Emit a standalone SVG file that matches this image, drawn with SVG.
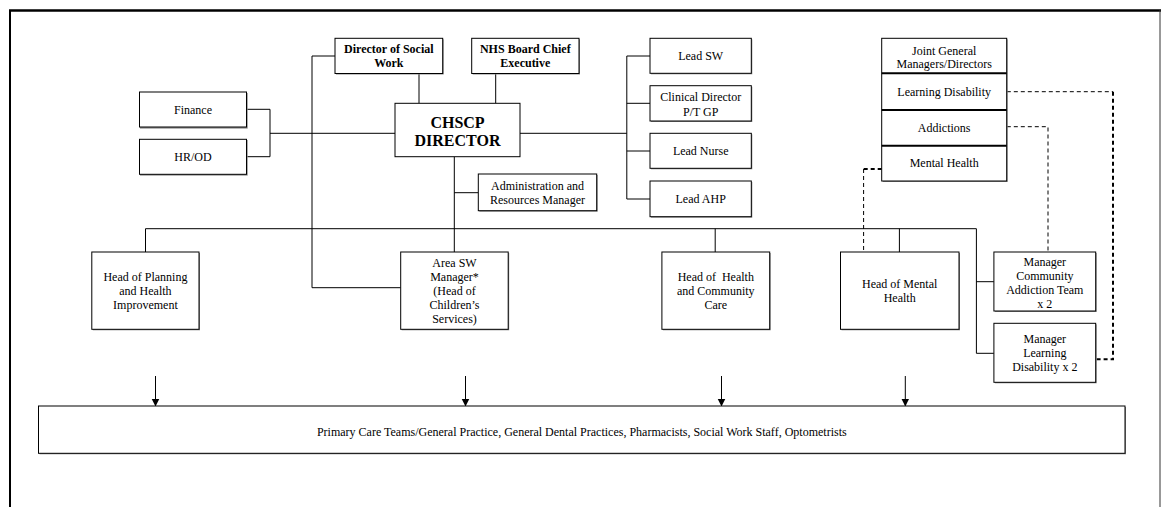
<svg xmlns="http://www.w3.org/2000/svg" width="1161" height="507" viewBox="0 0 1161 507">
<style>
.sh{fill:#8a8a8a;stroke:none}
.bx{fill:#fff;stroke:#000;stroke-width:1}
.t{font-family:"Liberation Serif","Times New Roman",serif;font-size:12px;fill:#000;text-anchor:middle}
.b{font-weight:bold}
.big{font-size:16px;font-weight:bold}
.sm{font-size:12px}
.ln{fill:none;stroke:#000;stroke-width:1}
.d1{fill:none;stroke:#000;stroke-width:1;stroke-dasharray:4,3}
.d2{fill:none;stroke:#000;stroke-width:2;stroke-dasharray:4,3}
</style>
<defs>
<marker id="ah" markerWidth="8" markerHeight="10" refX="7" refY="4" orient="auto" markerUnits="userSpaceOnUse">
<path d="M0,0 L8,4 L0,8 Z" fill="#000"/>
</marker>
</defs>
<rect x="0" y="0" width="1161" height="507" fill="#fff"/>
<g id="frame">
<line x1="9" y1="10.5" x2="1161" y2="10.5" stroke="#000" stroke-width="2.5"/>
<line x1="10" y1="10" x2="10" y2="507" stroke="#000" stroke-width="2"/>
<line x1="1160" y1="10" x2="1160" y2="507" stroke="#333" stroke-width="1"/>
</g>
<g id="connectors">
<path class="ln" d="M246.7,109.3 H270 V156.7 H246.7 M270,133.3 H395"/>
<path class="ln" d="M335,56 H312 V287.7 H400.7"/>
<path class="ln" d="M419,73.5 V103.3 M495.7,73.5 V103.3"/>
<path class="ln" d="M520,133.3 H626.8 M626.8,56 V199 M626.8,56 H650 M626.8,103.3 H650 M626.8,151 H650 M626.8,199 H650"/>
<path class="ln" d="M454.3,156.7 V252 M454.3,192.7 H478.3"/>
<path class="ln" d="M145.5,252 V228.7 H976.4 V353.3 H993.9 M976.4,281.7 H993.9 M715.2,228.7 V252 M899.4,228.7 V252"/>
<path class="d1" d="M1006.8,91.7 H1113"/>
<path class="d2" d="M1113,91.7 V359.3 H1095.7"/>
<path class="d1" d="M1006.8,126.7 H1048 V252"/>
<path class="d2" d="M881.7,169 H863.6"/>
<path class="d1" d="M863.6,169 V252"/>
<path class="ln" marker-end="url(#ah)" d="M155.5,376 V405.5"/>
<path class="ln" marker-end="url(#ah)" d="M465.5,376 V405.5"/>
<path class="ln" marker-end="url(#ah)" d="M721.5,376 V405.5"/>
<path class="ln" marker-end="url(#ah)" d="M905.3,376 V405.5"/>
</g>
<g id="finance">
<rect class="sh" x="140" y="93" width="107.7" height="35.6"/>
<rect class="bx" x="139.5" y="92" width="107" height="35"/>
<text class="t" x="193" y="113.5">Finance</text>
</g>
<g id="hrod">
<rect class="sh" x="140" y="140" width="107.7" height="35.6"/>
<rect class="bx" x="139.5" y="139.3" width="107" height="35"/>
<text class="t" x="193" y="160.7">HR/OD</text>
</g>
<g id="dosw">
<rect class="sh" x="336" y="39.3" width="107.7" height="35.2"/>
<rect class="bx" x="335" y="38.3" width="107.7" height="35.2"/>
<text class="t b" x="388.8" y="53.3">Director of Social</text>
<text class="t b" x="388.8" y="67.3">Work</text>
</g>
<g id="nhs">
<rect class="sh" x="472.7" y="39.3" width="107.3" height="35.2"/>
<rect class="bx" x="471.7" y="38.3" width="107.3" height="35.2"/>
<text class="t b" x="525.3" y="53.3">NHS Board Chief</text>
<text class="t b" x="525.3" y="67.3">Executive</text>
</g>
<g id="chscp">
<rect class="bx" x="395" y="103.3" width="125" height="53.4" stroke-width="3"/>
<text class="t big" x="457.5" y="128">CHSCP</text>
<text class="t big" x="457.5" y="146.3">DIRECTOR</text>
</g>
<g id="admin">
<rect class="sh" x="479.3" y="175" width="118.4" height="36.7"/>
<rect class="bx" x="478.3" y="174" width="118.4" height="36.7"/>
<text class="t" x="537.5" y="189.7">Administration and</text>
<text class="t" x="537.5" y="204">Resources Manager</text>
</g>
<g id="leadsw">
<rect class="sh" x="651" y="39.3" width="101.3" height="35"/>
<rect class="bx" x="650" y="38.3" width="101.3" height="35"/>
<text class="t" x="700.7" y="59.8">Lead SW</text>
</g>
<g id="clinical">
<rect class="sh" x="651" y="86.7" width="101.3" height="35.3"/>
<rect class="bx" x="650" y="85.7" width="101.3" height="35.3"/>
<text class="t" x="700.7" y="101.3">Clinical Director</text>
<text class="t" x="700.7" y="115.7">P/T GP</text>
</g>
<g id="leadnurse">
<rect class="sh" x="651" y="134.3" width="101.3" height="35"/>
<rect class="bx" x="650" y="133.3" width="101.3" height="35"/>
<text class="t" x="700.7" y="155">Lead Nurse</text>
</g>
<g id="leadahp">
<rect class="sh" x="651" y="182" width="101.3" height="35.7"/>
<rect class="bx" x="650" y="181" width="101.3" height="35.7"/>
<text class="t" x="700.7" y="203">Lead AHP</text>
</g>
<g id="jointgm">
<rect class="sh" x="882.7" y="39.3" width="125" height="142.7"/>
<rect class="bx" x="881.7" y="38.3" width="125" height="142.7"/>
<line x1="881.7" y1="73.3" x2="1006.7" y2="73.3" stroke="#000" stroke-width="2"/>
<line x1="881.7" y1="110" x2="1006.7" y2="110" stroke="#000" stroke-width="2"/>
<line x1="881.7" y1="145.7" x2="1006.7" y2="145.7" stroke="#000" stroke-width="2"/>
<text class="t" x="944.2" y="54.7">Joint General</text>
<text class="t" x="944.2" y="67.7">Managers/Directors</text>
<text class="t" x="944.2" y="95.7">Learning Disability</text>
<text class="t" x="944.2" y="131.8">Addictions</text>
<text class="t" x="944.2" y="167.3">Mental Health</text>
</g>
<g id="planning">
<rect class="sh" x="92.8" y="253" width="107.2" height="77.3"/>
<rect class="bx" x="91.8" y="252" width="107.2" height="77.3"/>
<text class="t" x="145.4" y="280.7">Head of Planning</text>
<text class="t" x="145.4" y="294.7">and Health</text>
<text class="t" x="145.4" y="308.7">Improvement</text>
</g>
<g id="areasw">
<rect class="sh" x="401.7" y="253" width="107.5" height="77.3"/>
<rect class="bx" x="400.7" y="252" width="107.5" height="77.3"/>
<text class="t" x="454.5" y="266.7">Area SW</text>
<text class="t" x="454.5" y="280.7">Manager*</text>
<text class="t" x="454.5" y="294.7">(Head of</text>
<text class="t" x="454.5" y="308.7">Children’s</text>
<text class="t" x="454.5" y="322.7">Services)</text>
</g>
<g id="hhcc">
<rect class="sh" x="662.9" y="253" width="107.8" height="77.3"/>
<rect class="bx" x="661.9" y="252" width="107.8" height="77.3"/>
<text class="t" x="715.8" y="280.7" xml:space="preserve">Head of  Health</text>
<text class="t" x="715.8" y="294.7">and Community</text>
<text class="t" x="715.8" y="308.7">Care</text>
</g>
<g id="hmh">
<rect class="sh" x="841.5" y="253" width="118.5" height="77.3"/>
<rect class="bx" x="840.5" y="252" width="118.5" height="77.3"/>
<text class="t" x="899.7" y="287.7">Head of Mental</text>
<text class="t" x="899.7" y="301.7">Health</text>
</g>
<g id="mcat">
<rect class="sh" x="994.9" y="253" width="101.8" height="59"/>
<rect class="bx" x="993.9" y="252" width="101.8" height="59"/>
<text class="t" x="1044.8" y="265.8">Manager</text>
<text class="t" x="1044.8" y="279.8">Community</text>
<text class="t" x="1044.8" y="293.8">Addiction Team</text>
<text class="t" x="1044.8" y="307.8">x 2</text>
</g>
<g id="mld">
<rect class="sh" x="994.9" y="324.3" width="101.8" height="59"/>
<rect class="bx" x="993.9" y="323.3" width="101.8" height="59"/>
<text class="t" x="1044.8" y="342.8">Manager</text>
<text class="t" x="1044.8" y="356.8">Learning</text>
<text class="t" x="1044.8" y="370.8">Disability x 2</text>
</g>
<g id="primary">
<rect class="sh" x="39.5" y="407" width="1086.5" height="47.3"/>
<rect class="bx" x="38.5" y="406" width="1086.5" height="47.3"/>
<text class="t sm" x="581.8" y="435.5">Primary Care Teams/General Practice, General Dental Practices, Pharmacists, Social Work Staff, Optometrists</text>
</g>
</svg>
